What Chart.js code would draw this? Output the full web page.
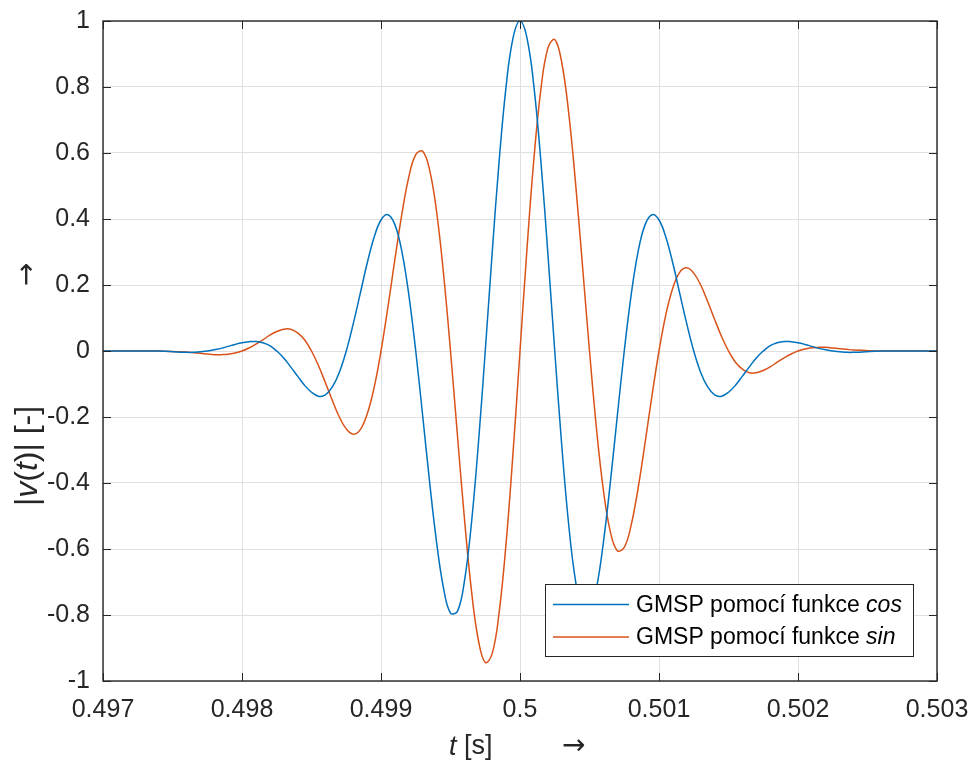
<!DOCTYPE html>
<html>
<head>
<meta charset="utf-8">
<script src="https://cdn.jsdelivr.net/npm/chart.js@4.4.1/dist/chart.umd.min.js"></script>
<style>
html,body{margin:0;padding:0;background:#fff;overflow:hidden}
#wrap{width:970px;height:760px;position:relative}
</style>
</head>
<body>
<div id="wrap"><canvas id="c" width="970" height="760"></canvas></div>
<script>
// ---- data ----
const timeS = [0.497, 0.4972, 0.4974,
 0.4976, 0.49765, 0.4977, 0.49775, 0.4978, 0.49785, 0.4979, 0.49795,
 0.498, 0.49805, 0.4981, 0.49815, 0.4982, 0.49825, 0.4983, 0.49835, 0.4984, 0.49845,
 0.4985, 0.49855, 0.4986, 0.49865, 0.4987, 0.49875, 0.4988, 0.49885, 0.4989, 0.49895,
 0.499, 0.49905, 0.4991, 0.49915, 0.4992, 0.49925, 0.4993, 0.49935, 0.4994, 0.49945,
 0.4995, 0.49955, 0.4996, 0.49965, 0.4997, 0.49975, 0.4998, 0.49985, 0.4999, 0.49995,
 0.5, 0.50005, 0.5001, 0.50015, 0.5002, 0.50025, 0.5003, 0.50035, 0.5004, 0.50045,
 0.5005, 0.50055, 0.5006, 0.50065, 0.5007, 0.50075, 0.5008, 0.50085, 0.5009, 0.50095,
 0.501, 0.50105, 0.5011, 0.50115, 0.5012, 0.50125, 0.5013, 0.50135, 0.5014, 0.50145,
 0.5015, 0.50155, 0.5016, 0.50165, 0.5017, 0.50175, 0.5018, 0.50185, 0.5019, 0.50195,
 0.502, 0.50205, 0.5021, 0.50215, 0.5022, 0.50225, 0.5023, 0.50235, 0.5024,
 0.5026, 0.5028, 0.503];

const cosVals = [0, 0, 0,
 -0.004, -0.004, -0.002, 0, 0.004, 0.008, 0.014, 0.020,
 0.025, 0.028, 0.029, 0.025, 0.016, 0, -0.021, -0.048, -0.076, -0.104,
 -0.125, -0.137, -0.133, -0.109, -0.065, 0, 0.082, 0.173, 0.265, 0.344,
 0.397, 0.413, 0.383, 0.302, 0.171, 0, -0.197, -0.398, -0.580, -0.719,
 -0.794, -0.789, -0.698, -0.525, -0.284, 0, 0.298, 0.576, 0.802, 0.949,
 1, 0.949, 0.802, 0.576, 0.298, 0, -0.284, -0.525, -0.698, -0.789,
 -0.794, -0.719, -0.580, -0.398, -0.197, 0, 0.171, 0.302, 0.383, 0.413,
 0.397, 0.344, 0.265, 0.173, 0.082, 0, -0.065, -0.109, -0.133, -0.137,
 -0.125, -0.104, -0.076, -0.048, -0.021, 0, 0.016, 0.025, 0.029, 0.028,
 0.025, 0.020, 0.014, 0.008, 0.004, 0, -0.002, -0.004, -0.004,
 0, 0, 0];

const sinVals = [0, 0, 0,
 -0.003, -0.005, -0.007, -0.009, -0.011, -0.011, -0.010, -0.006,
 0, 0.009, 0.021, 0.034, 0.048, 0.059, 0.066, 0.066, 0.055, 0.034,
 0, -0.044, -0.096, -0.150, -0.200, -0.236, -0.252, -0.239, -0.192, -0.112,
 0, 0.134, 0.278, 0.415, 0.527, 0.595, 0.605, 0.548, 0.422, 0.234,
 0, -0.256, -0.507, -0.723, -0.875, -0.944, -0.917, -0.792, -0.582, -0.308,
 0, 0.308, 0.582, 0.792, 0.917, 0.944, 0.875, 0.723, 0.507, 0.256,
 0, -0.234, -0.422, -0.548, -0.605, -0.595, -0.527, -0.415, -0.278, -0.134,
 0, 0.112, 0.192, 0.239, 0.252, 0.236, 0.200, 0.150, 0.096, 0.044,
 0, -0.034, -0.055, -0.066, -0.066, -0.059, -0.048, -0.034, -0.021, -0.009,
 0, 0.006, 0.010, 0.011, 0.011, 0.009, 0.007, 0.005, 0.003,
 0, 0, 0];

const xTicks = [0.497, 0.498, 0.499, 0.5, 0.501, 0.502, 0.503];
const xTickLabels = ['0.497', '0.498', '0.499', '0.5', '0.501', '0.502', '0.503'];
const yTicks = [-1, -0.8, -0.6, -0.4, -0.2, 0, 0.2, 0.4, 0.6, 0.8, 1];
const yTickLabels = ['-1', '-0.8', '-0.6', '-0.4', '-0.2', '0', '0.2', '0.4', '0.6', '0.8', '1'];
const legendPrefix = 'GMSP pomocí funkce ';
const legendSuffixes = ['cos', 'sin'];

// ---- styling ----
const FONT = "'Liberation Sans', Arial, Helvetica, sans-serif";
const ARROWFONT = "'DejaVu Sans', 'Liberation Sans', sans-serif";
const INK = '#262626';
const COLORS = ['#0072BD', '#D95319'];

const frame = {
  id: 'frame',
  afterDatasetsDraw(chart) {
    const { ctx, chartArea: a, scales: { x, y } } = chart;
    ctx.save();
    ctx.strokeStyle = INK;
    ctx.lineWidth = 1;
    ctx.beginPath();
    xTicks.forEach(v => {
      const p = Math.round(x.getPixelForValue(v)) + 0.5;
      ctx.moveTo(p, a.bottom); ctx.lineTo(p, a.bottom - 8);
      ctx.moveTo(p, a.top); ctx.lineTo(p, a.top + 8);
    });
    yTicks.forEach(v => {
      const p = Math.round(y.getPixelForValue(v)) + 0.5;
      ctx.moveTo(a.left, p); ctx.lineTo(a.left + 8, p);
      ctx.moveTo(a.right, p); ctx.lineTo(a.right - 8, p);
    });
    ctx.stroke();
    ctx.lineWidth = 1.4;
    ctx.strokeRect(a.left, a.top, a.right - a.left, a.bottom - a.top);

    // legend
    const L = a.right - 24 - 368, T = a.bottom - 25 - 72, W = 368, H = 72;
    ctx.fillStyle = '#fff';
    ctx.fillRect(L, T, W, H);
    ctx.lineWidth = 1;
    ctx.strokeStyle = INK;
    ctx.strokeRect(L + 0.5, T + 0.5, W, H);
    const rows = [T + 20.5, T + 53];
    chart.data.datasets.forEach((ds, i) => {
      ctx.strokeStyle = ds.borderColor;
      ctx.lineWidth = 1.5;
      ctx.beginPath();
      ctx.moveTo(L + 8, rows[i]); ctx.lineTo(L + 84, rows[i]);
      ctx.stroke();
      ctx.fillStyle = '#000';
      ctx.textBaseline = 'middle';
      ctx.textAlign = 'left';
      ctx.font = `23px ${FONT}`;
      ctx.fillText(legendPrefix, L + 91, rows[i] + 1);
      const w = ctx.measureText(legendPrefix).width;
      ctx.font = `italic 23px ${FONT}`;
      ctx.fillText(legendSuffixes[i], L + 91 + w, rows[i] + 1);
    });
    ctx.restore();
  },
  afterDraw(chart) {
    const { ctx } = chart;
    ctx.save();
    ctx.fillStyle = INK;
    ctx.textBaseline = 'middle';
    ctx.textAlign = 'left';
    const drawPieces = (pieces, size, fam) => {
      let cx = 0;
      pieces.forEach(([txt, it]) => {
        ctx.font = `${it ? 'italic ' : ''}${size}px ${fam || FONT}`;
        ctx.fillText(txt, cx, 0);
        cx += ctx.measureText(txt).width;
      });
    };
    // x title
    ctx.save();
    ctx.translate(449, 747);
    drawPieces([['t', true], [' [s]', false]], 27);
    ctx.restore();
    ctx.save();
    ctx.translate(562, 747);
    drawPieces([['\u2192', false]], 28, ARROWFONT);
    ctx.restore();
    // y title
    ctx.save();
    ctx.translate(28, 506);
    ctx.rotate(-Math.PI / 2);
    drawPieces([['|', false], ['v', true], ['(', false], ['t', true], [')| ', false], ['[-]', false]], 32);
    ctx.restore();
    ctx.save();
    ctx.translate(28, 286);
    ctx.rotate(-Math.PI / 2);
    drawPieces([['\u2192', false]], 28, ARROWFONT);
    ctx.restore();
    ctx.restore();
  }
};

const mk = (vals) => timeS.map((t, i) => ({ x: t, y: vals[i] }));

new Chart(document.getElementById('c').getContext('2d'), {
  type: 'line',
  data: {
    datasets: [
      { label: legendPrefix + legendSuffixes[0], data: mk(cosVals), borderColor: COLORS[0], borderWidth: 1.5,
        pointRadius: 0, tension: 0.4, fill: false },
      { label: legendPrefix + legendSuffixes[1], data: mk(sinVals), borderColor: COLORS[1], borderWidth: 1.5,
        pointRadius: 0, tension: 0.4, fill: false }
    ]
  },
  options: {
    responsive: false,
    animation: false,
    devicePixelRatio: 1,
    layout: { autoPadding: true, padding: { left: 0, right: 33, top: 21, bottom: 0 } },
    plugins: { legend: { display: false }, tooltip: { enabled: false } },
    scales: {
      x: {
        type: 'linear', min: 0.497, max: 0.503,
        afterBuildTicks: s => { s.ticks = xTicks.map(v => ({ value: v })); },
        afterFit: s => { s.height = 79; s.paddingLeft = 0; s.paddingRight = 0; },
        ticks: { callback: (v, i) => xTickLabels[i], font: { family: FONT, size: 25 }, color: INK,
                 padding: 14, maxRotation: 0, autoSkip: false },
        grid: { color: '#e0e0e0', drawTicks: false, lineWidth: 1 },
        border: { display: false }
      },
      y: {
        type: 'linear', min: -1, max: 1,
        afterBuildTicks: s => { s.ticks = yTicks.map(v => ({ value: v })); },
        afterFit: s => { s.width = 103; s.paddingTop = 0; s.paddingBottom = 0; },
        ticks: { callback: (v, i) => yTickLabels[i], font: { family: FONT, size: 25 }, color: INK,
                 padding: 13, autoSkip: false },
        grid: { color: '#e0e0e0', drawTicks: false, lineWidth: 1 },
        border: { display: false }
      }
    }
  },
  plugins: [frame]
});
</script>
</body>
</html>
